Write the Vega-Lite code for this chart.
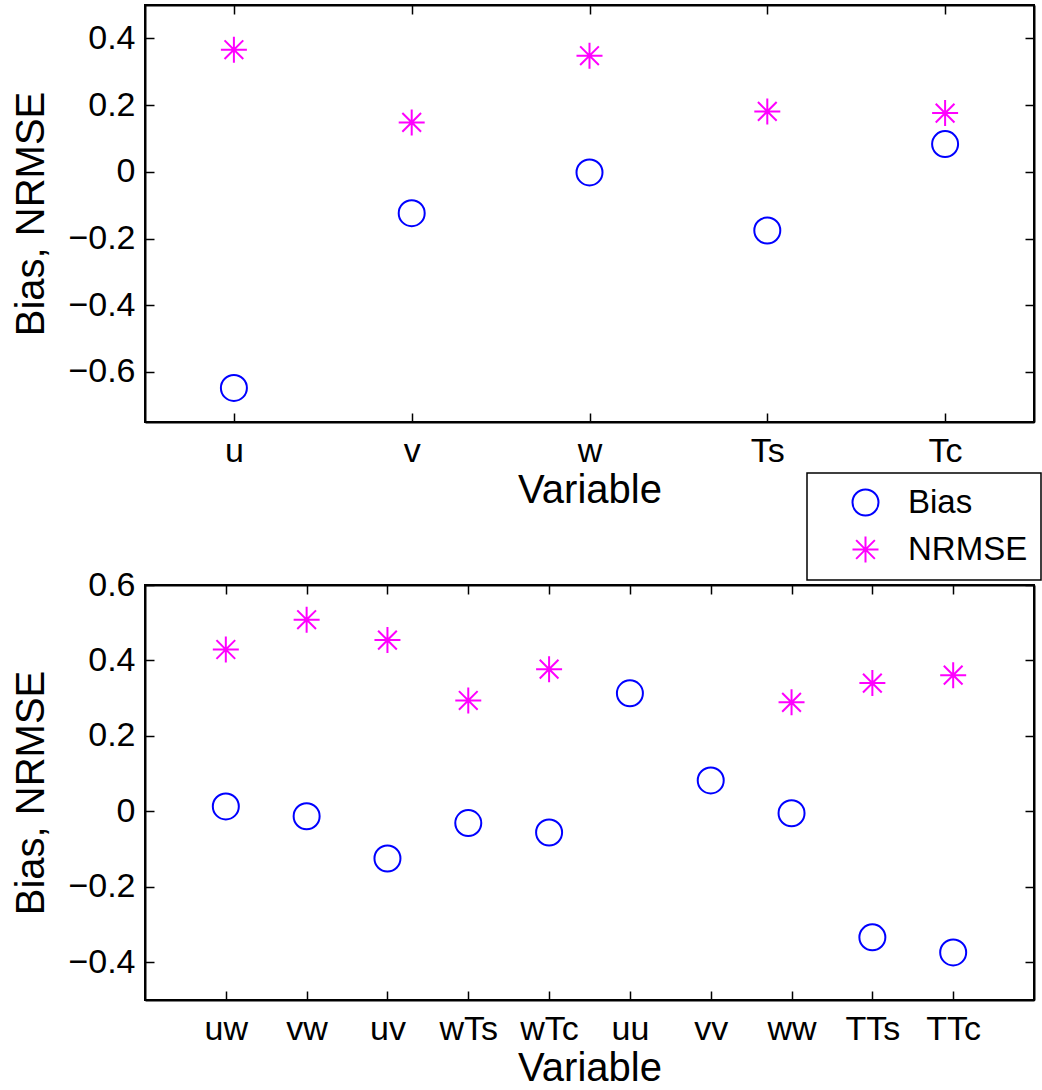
{
  "$schema": "https://vega.github.io/schema/vega-lite/v6.json",
  "background": "white",
  "padding": {"left": 10, "top": 3, "right": 0, "bottom": 0},
  "spacing": 56,
  "datasets": {
    "top": [
      {"var": "u", "series": "Bias", "value": -0.648},
      {"var": "v", "series": "Bias", "value": -0.124},
      {"var": "w", "series": "Bias", "value": -0.002},
      {"var": "Ts", "series": "Bias", "value": -0.176},
      {"var": "Tc", "series": "Bias", "value": 0.083},
      {"var": "u", "series": "NRMSE", "value": 0.366},
      {"var": "v", "series": "NRMSE", "value": 0.148},
      {"var": "w", "series": "NRMSE", "value": 0.348},
      {"var": "Ts", "series": "NRMSE", "value": 0.181},
      {"var": "Tc", "series": "NRMSE", "value": 0.176}
    ],
    "bottom": [
      {"var": "uw", "series": "Bias", "value": 0.013},
      {"var": "vw", "series": "Bias", "value": -0.013},
      {"var": "uv", "series": "Bias", "value": -0.125},
      {"var": "wTs", "series": "Bias", "value": -0.031},
      {"var": "wTc", "series": "Bias", "value": -0.056},
      {"var": "uu", "series": "Bias", "value": 0.313},
      {"var": "vv", "series": "Bias", "value": 0.082},
      {"var": "ww", "series": "Bias", "value": -0.005},
      {"var": "TTs", "series": "Bias", "value": -0.334},
      {"var": "TTc", "series": "Bias", "value": -0.374},
      {"var": "uw", "series": "NRMSE", "value": 0.429},
      {"var": "vw", "series": "NRMSE", "value": 0.508},
      {"var": "uv", "series": "NRMSE", "value": 0.454},
      {"var": "wTs", "series": "NRMSE", "value": 0.294},
      {"var": "wTc", "series": "NRMSE", "value": 0.377},
      {"var": "ww", "series": "NRMSE", "value": 0.289},
      {"var": "TTs", "series": "NRMSE", "value": 0.34},
      {"var": "TTc", "series": "NRMSE", "value": 0.361}
    ]
  },
  "vconcat": [
    {
      "width": 889,
      "height": 417,
      "data": {"name": "top"},
      "layer": [
        {
          "mark": {"type": "point", "filled": false, "size": 676, "strokeWidth": 2, "opacity": 1},
          "encoding": {
            "x": {"field": "var", "type": "nominal", "sort": ["u", "v", "w", "Ts", "Tc"], "scale": {"type": "point", "padding": 0.5}, "axis": {"orient": "bottom", "title": "Variable", "labelAngle": 0}},
            "y": {"field": "value", "type": "quantitative", "scale": {"domain": [-0.75, 0.5], "nice": false, "zero": false}, "axis": {"orient": "left", "title": "Bias, NRMSE", "values": [-0.6, -0.4, -0.2, 0, 0.2, 0.4], "format": ".1~f"}},
            "color": {"field": "series", "type": "nominal", "scale": {"domain": ["Bias", "NRMSE"], "range": ["#0000ff", "#ff00ff"]}, "legend": {"orient": "none", "legendX": 662, "legendY": 468, "title": null}},
            "shape": {"field": "series", "type": "nominal", "scale": {"domain": ["Bias", "NRMSE"], "range": ["circle", "M-1,0L1,0M0,-1L0,1M-0.72,-0.72L0.72,0.72M-0.72,0.72L0.72,-0.72"]}, "legend": {"orient": "none", "legendX": 662, "legendY": 468, "title": null}}
          }
        },
        {
          "mark": {"type": "point", "opacity": 0},
          "encoding": {
            "x": {"field": "var", "type": "nominal", "sort": ["u", "v", "w", "Ts", "Tc"], "axis": {"orient": "top", "labels": false, "title": null}},
            "y": {"field": "value", "type": "quantitative", "axis": {"orient": "right", "labels": false, "title": null, "values": [-0.6, -0.4, -0.2, 0, 0.2, 0.4]}}
          }
        }
      ],
      "resolve": {"axis": {"x": "independent", "y": "independent"}}
    },
    {
      "width": 889,
      "height": 415,
      "data": {"name": "bottom"},
      "layer": [
        {
          "mark": {"type": "point", "filled": false, "size": 676, "strokeWidth": 2, "opacity": 1},
          "encoding": {
            "x": {"field": "var", "type": "nominal", "sort": ["uw", "vw", "uv", "wTs", "wTc", "uu", "vv", "ww", "TTs", "TTc"], "scale": {"type": "point", "padding": 1}, "axis": {"orient": "bottom", "title": "Variable", "labelAngle": 0}},
            "y": {"field": "value", "type": "quantitative", "scale": {"domain": [-0.5, 0.6], "nice": false, "zero": false}, "axis": {"orient": "left", "title": "Bias, NRMSE", "values": [-0.4, -0.2, 0, 0.2, 0.4, 0.6], "format": ".1~f"}},
            "color": {"field": "series", "type": "nominal", "scale": {"domain": ["Bias", "NRMSE"], "range": ["#0000ff", "#ff00ff"]}, "legend": {"orient": "none", "legendX": 662, "legendY": 468, "title": null}},
            "shape": {"field": "series", "type": "nominal", "scale": {"domain": ["Bias", "NRMSE"], "range": ["circle", "M-1,0L1,0M0,-1L0,1M-0.72,-0.72L0.72,0.72M-0.72,0.72L0.72,-0.72"]}, "legend": {"orient": "none", "legendX": 662, "legendY": 468, "title": null}}
          }
        },
        {
          "mark": {"type": "point", "opacity": 0},
          "encoding": {
            "x": {"field": "var", "type": "nominal", "sort": ["uw", "vw", "uv", "wTs", "wTc", "uu", "vv", "ww", "TTs", "TTc"], "axis": {"orient": "top", "labels": false, "title": null}},
            "y": {"field": "value", "type": "quantitative", "axis": {"orient": "right", "labels": false, "title": null, "values": [-0.4, -0.2, 0, 0.2, 0.4, 0.6]}}
          }
        }
      ],
      "resolve": {"axis": {"x": "independent", "y": "independent"}}
    }
  ],
  "config": {
    "font": "Liberation Sans",
    "view": {"stroke": "black", "strokeWidth": 2},
    "axis": {
      "grid": false,
      "domainColor": "black",
      "domainWidth": 2,
      "tickColor": "black",
      "tickWidth": 1.5,
      "tickSize": -9,
      "labelFont": "Liberation Sans",
      "labelFontSize": 34,
      "labelColor": "black",
      "titleFont": "Liberation Sans",
      "titleFontSize": 40,
      "titleFontWeight": "normal",
      "titleColor": "black"
    },
    "axisBottom": {"labelPadding": 21, "titlePadding": 2},
    "axisLeft": {"labelPadding": 19, "titlePadding": 16},
    "legend": {
      "labelFont": "Liberation Sans",
      "labelFontSize": 33,
      "labelColor": "black",
      "symbolSize": 676,
      "symbolStrokeWidth": 2,
      "symbolOpacity": 1,
      "strokeColor": "black",
      "strokeWidth": 1.5,
      "fillColor": "white",
      "padding": 13,
      "rowPadding": 12,
      "labelOffset": 26,
      "symbolOffset": 29,
      "cornerRadius": 0
    }
  }
}
